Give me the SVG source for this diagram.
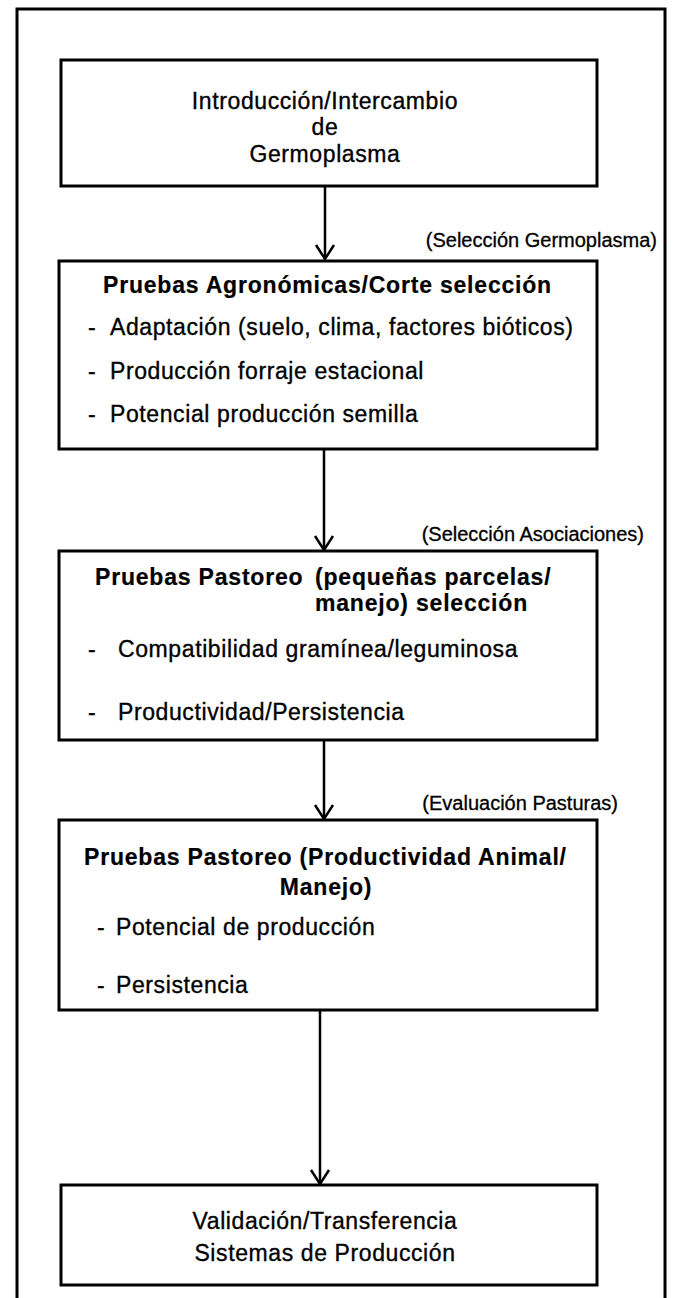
<svg xmlns="http://www.w3.org/2000/svg" width="675" height="1298" viewBox="0 0 675 1298">
<style>
.frame{fill:none;stroke:#000;stroke-width:3}
.box{fill:#fff;stroke:#000;stroke-width:3}
.t{font-family:"Liberation Sans",Arial,Helvetica,sans-serif;font-size:23px;fill:#000;stroke:#000;stroke-width:0.35px;letter-spacing:0.6px}
.b{font-weight:bold;letter-spacing:0.8px;stroke-width:0.2px}
.c{text-anchor:middle}
.lbl{font-family:"Liberation Sans",Arial,Helvetica,sans-serif;font-size:20px;fill:#000;stroke:#000;stroke-width:0.3px;text-anchor:end}
.edge{stroke:#000;stroke-width:2.5;fill:none}
</style>
<defs>
<marker id="arr" markerUnits="userSpaceOnUse" markerWidth="18" markerHeight="22" viewBox="0 0 18 22" refX="15" refY="11" orient="auto">
<path d="M1,2 L15,11 L1,20" fill="none" stroke="#000" stroke-width="2.5"/>
</marker>
</defs>
<rect class="frame" x="17" y="9" width="648" height="1300"/>
<g id="connectors">
<line class="edge" x1="325" y1="186" x2="325" y2="259" marker-end="url(#arr)"/>
<line class="edge" x1="324" y1="449" x2="324" y2="550" marker-end="url(#arr)"/>
<line class="edge" x1="324" y1="740" x2="324" y2="819" marker-end="url(#arr)"/>
<line class="edge" x1="320" y1="1010" x2="320" y2="1184" marker-end="url(#arr)"/>
<text class="lbl" x="657" y="247">(Selección Germoplasma)</text>
<text class="lbl" x="644" y="541">(Selección Asociaciones)</text>
<text class="lbl" x="618" y="810">(Evaluación Pasturas)</text>
</g>
<g id="n1">
<rect class="box" x="61" y="60" width="536" height="126"/>
<text class="t c" x="325" y="109">Introducción/Intercambio</text>
<text class="t c" x="325" y="135">de</text>
<text class="t c" x="325" y="162">Germoplasma</text>
</g>
<g id="n2">
<rect class="box" x="59" y="261" width="538" height="188"/>
<text class="t b" x="103" y="293">Pruebas Agronómicas/Corte selección</text>
<text class="t" x="88" y="335">-</text><text class="t" x="110" y="335">Adaptación (suelo, clima, factores bióticos)</text>
<text class="t" x="88" y="379">-</text><text class="t" x="110" y="379">Producción forraje estacional</text>
<text class="t" x="88" y="422">-</text><text class="t" x="110" y="422">Potencial producción semilla</text>
</g>
<g id="n3">
<rect class="box" x="59" y="551" width="538" height="189"/>
<text class="t b" x="95" y="585">Pruebas Pastoreo</text>
<text class="t b" x="315" y="585">(pequeñas parcelas/</text>
<text class="t b" x="315" y="611">manejo) selección</text>
<text class="t" x="88" y="657">-</text><text class="t" x="118" y="657">Compatibilidad gramínea/leguminosa</text>
<text class="t" x="88" y="720">-</text><text class="t" x="118" y="720">Productividad/Persistencia</text>
</g>
<g id="n4">
<rect class="box" x="59" y="820" width="538" height="190"/>
<text class="t b" x="84" y="865">Pruebas Pastoreo (Productividad Animal/</text>
<text class="t b c" x="326" y="895">Manejo)</text>
<text class="t" x="97" y="935">-</text><text class="t" x="116" y="935">Potencial de producción</text>
<text class="t" x="97" y="993">-</text><text class="t" x="116" y="993">Persistencia</text>
</g>
<g id="n5">
<rect class="box" x="61" y="1185" width="536" height="100"/>
<text class="t c" x="325" y="1229">Validación/Transferencia</text>
<text class="t c" x="325" y="1261">Sistemas de Producción</text>
</g>
</svg>
